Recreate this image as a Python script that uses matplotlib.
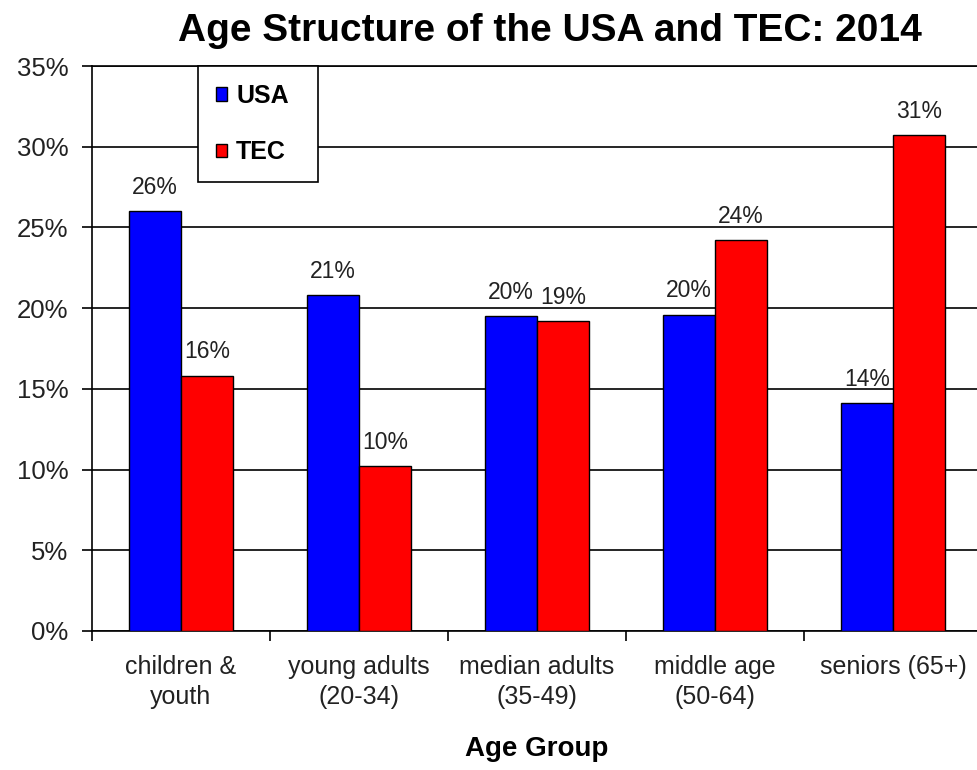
import matplotlib
matplotlib.use("Agg")
import matplotlib.pyplot as plt
import numpy as np
from matplotlib.ticker import FixedLocator, PercentFormatter

categories = ["children &\nyouth", "young adults\n(20-34)", "median adults\n(35-49)", "middle age\n(50-64)", "seniors (65+)"]
usa = [26.0, 20.8, 19.5, 19.6, 14.1]
tec = [15.8, 10.2, 19.2, 24.2, 30.7]
usa_labels = ["26%", "21%", "20%", "20%", "14%"]
tec_labels = ["16%", "10%", "19%", "24%", "31%"]
yticks = [0, 5, 10, 15, 20, 25, 30, 35]

plt.rcParams['font.family'] = ['Liberation Sans', 'DejaVu Sans']

fig = plt.figure(figsize=(9.77, 7.7), dpi=100)
ax = fig.add_axes([92/977, (770-631)/770, 890/977, (631-66)/770])

x = np.arange(len(categories))
w = 0.29
b1 = ax.bar(x - w/2, usa, w, color="#0000FF", edgecolor="black", linewidth=1, label="USA", zorder=3)
b2 = ax.bar(x + w/2, tec, w, color="#FF0000", edgecolor="black", linewidth=1, label="TEC", zorder=3)

for bars, labels in ((b1, usa_labels), (b2, tec_labels)):
    for rect, lab in zip(bars, labels):
        ax.annotate(lab, (rect.get_x() + rect.get_width()/2, rect.get_height()),
                    xytext=(0, 9), textcoords="offset points", ha="center", va="bottom",
                    fontsize=16.5, color="#222222", zorder=4)

ax.set_xlim(-0.5, len(categories) - 0.5)
ax.set_ylim(0, 35)
ax.set_yticks(yticks)
ax.yaxis.set_major_formatter(PercentFormatter(decimals=0))
ax.yaxis.grid(True, color="black", linewidth=1.2, zorder=0)
ax.set_xticks(x)
ax.set_xticklabels(categories, fontsize=18, color="#222222", linespacing=1.35)
ax.xaxis.set_minor_locator(FixedLocator(np.arange(len(categories) + 1) - 0.5))
ax.tick_params(axis="x", which="major", length=0, pad=17)
ax.tick_params(axis="x", which="minor", length=7, width=1.2, direction="out")
ax.tick_params(axis="y", length=7, width=1.2, direction="out", labelsize=18.5, labelcolor="#222222", pad=10)
for s in ["left", "bottom", "top"]:
    ax.spines[s].set_linewidth(1.2)
ax.spines["right"].set_visible(False)

ax.set_xlabel("Age Group", fontsize=20, fontweight="bold", labelpad=19)
fig.text(550/977, 1 - 31/770, "Age Structure of the USA and TEC: 2014", ha="center", va="center",
         fontsize=28, fontweight="bold")

leg = ax.legend(loc="upper left", bbox_to_anchor=(198/977, (770-180)/770, 120/977, 114/770),
                bbox_transform=fig.transFigure, mode="expand", borderaxespad=0, frameon=True,
                fancybox=False, edgecolor="black", framealpha=1, handlelength=0.45,
                handleheight=0.45, handletextpad=0.35, labelspacing=1.3, borderpad=0.72,
                prop={"weight": "bold", "size": 18})
leg.get_frame().set_linewidth(1.2)
leg.set_zorder(5)

fig.savefig("out.png", dpi=100)
